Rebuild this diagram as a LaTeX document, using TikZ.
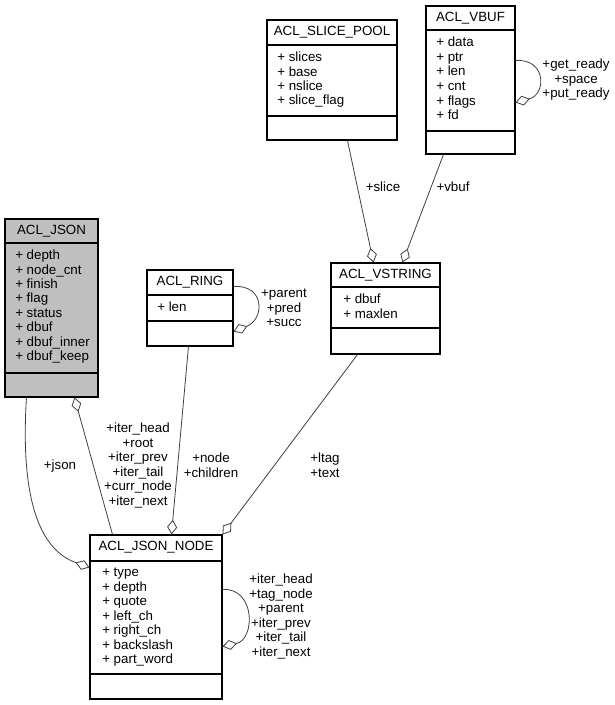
\documentclass[tikz,border=0pt]{standalone}
\usepackage{fontspec}
\setmainfont{Liberation Sans}
\usepackage{xcolor}
\definecolor{dxgray}{RGB}{191,191,191}
\definecolor{dxedge}{RGB}{64,64,64}
\usetikzlibrary{arrows.meta,fit,calc}
\tikzset{
  classbox/.style={draw=black,line width=0.8pt,inner sep=0pt},
  divline/.style={draw=black,line width=0.8pt},
  ctitle/.style={inner sep=0pt,text height=7.5pt,text depth=2pt},
  attr/.style={anchor=west,inner sep=0pt,text height=7.5pt,text depth=2pt},
  rel/.style={draw=dxedge,line width=0.6pt,-{Diamond[length=11pt,width=7.5pt,fill=white]}},
  rlabel/.style={align=center,inner sep=0pt}
}

\begin{document}
\begin{tikzpicture}[x=0.75pt,y=-0.75pt,font=\fontsize{10}{10.9}\selectfont]
  \fill[white] (0,0) rectangle (614,705);
  \useasboundingbox (0,0) rectangle (614,705);
  % ACL_JSON
  \node[classbox,fill=dxgray,fit={(5,219) (98,397)}] (json) {};
  \draw[divline] (json.west |- 0,243) -- (json.east |- 0,243);
  \draw[divline] (json.west |- 0,373) -- (json.east |- 0,373);
  \node[ctitle] (json-t) at (json.north |- 0,231) {ACL\_JSON};
  \foreach \a [count=\i] in {depth,node\_cnt,finish,flag,status,dbuf,dbuf\_inner,dbuf\_keep}
    \node[attr] (json-a\i) at (15,241.6+14.4*\i) {+ \a};
  % ACL_SLICE_POOL
  \node[classbox,fit={(267,20) (397,140)}] (slice) {};
  \draw[divline] (slice.west |- 0,45) -- (slice.east |- 0,45);
  \draw[divline] (slice.west |- 0,116) -- (slice.east |- 0,116);
  \node[ctitle] (slice-t) at (slice.north |- 0,32) {ACL\_SLICE\_POOL};
  \foreach \a [count=\i] in {slices,base,nslice,slice\_flag}
    \node[attr] (slice-a\i) at (277,43.6+14.4*\i) {+ \a};
  % ACL_VBUF
  \node[classbox,fit={(426,6) (515,154)}] (vbuf) {};
  \draw[divline] (vbuf.west |- 0,30) -- (vbuf.east |- 0,30);
  \draw[divline] (vbuf.west |- 0,131) -- (vbuf.east |- 0,131);
  \node[ctitle] (vbuf-t) at (vbuf.north |- 0,18) {ACL\_VBUF};
  \foreach \a [count=\i] in {data,ptr,len,cnt,flags,fd}
    \node[attr] (vbuf-a\i) at (436,28.4+14.6*\i) {+ \a};
  % ACL_RING
  \node[classbox,fit={(147,270) (233,346)}] (ring) {};
  \draw[divline] (ring.west |- 0,295) -- (ring.east |- 0,295);
  \draw[divline] (ring.west |- 0,321) -- (ring.east |- 0,321);
  \node[ctitle] (ring-t) at (ring.north |- 0,282) {ACL\_RING};
  \node[attr] (ring-a1) at (157,308) {+ len};
  % ACL_VSTRING
  \node[classbox,fit={(331,263) (440,354)}] (vstring) {};
  \draw[divline] (vstring.west |- 0,287) -- (vstring.east |- 0,287);
  \draw[divline] (vstring.west |- 0,328) -- (vstring.east |- 0,328);
  \node[ctitle] (vstring-t) at (vstring.north |- 0,275) {ACL\_VSTRING};
  \foreach \a [count=\i] in {dbuf,maxlen}
    \node[attr] (vstring-a\i) at (343,285.6+14.4*\i) {+ \a};
  % ACL_JSON_NODE
  \node[classbox,fit={(90,535) (222,699)}] (jnode) {};
  \draw[divline] (jnode.west |- 0,561) -- (jnode.east |- 0,561);
  \draw[divline] (jnode.west |- 0,674) -- (jnode.east |- 0,674);
  \node[ctitle] (jnode-t) at (jnode.north |- 0,547) {ACL\_JSON\_NODE};
  \foreach \a [count=\i] in {type,depth,quote,left\_ch,right\_ch,backslash,part\_word}
    \node[attr] (jnode-a\i) at (102,558.5+14.5*\i) {+ \a};

  % relations
  \draw[rel] ($(json.south west)+(22,0)$) .. controls (20,500) and (40,550) .. ($(jnode.north west)+(0,33)$);
  \draw[rel] ($(jnode.north west)+(23,0)$) -- ($(json.south west)+(70,0)$);
  \draw[rel] ($(ring.south west)+(42,0)$) -- ($(jnode.north west)+(82,0)$);
  \draw[rel] ($(vstring.south west)+(27,0)$) -- (jnode.north east);
  \draw[rel] ($(slice.south west)+(81,0)$) -- ($(vstring.north west)+(43,0)$);
  \draw[rel] ($(vbuf.south west)+(18,0)$) -- ($(vstring.north west)+(72,0)$);
  % self loops
  \draw[rel] ($(ring.north east)+(0,17)$) .. controls +(32,-2) and +(31,-12) .. ($(ring.north east)+(0,62)$);
  \draw[rel] ($(vbuf.north east)+(0,55)$) .. controls +(31,-2) and +(31,-8) .. ($(vbuf.north east)+(0,97)$);
  \draw[rel] ($(jnode.north east)+(0,55)$) .. controls +(33,-2) and +(33,-7) .. ($(jnode.north east)+(0,112)$);

  % labels
  \node[rlabel] (l-json) at (60,466) {+json};
  \node[rlabel] (l-iter) at (138,465.5) {+iter\_head\\+root\\+iter\_prev\\+iter\_tail\\+curr\_node\\+iter\_next};
  \node[rlabel] (l-node) at (211,465) {+node\\+children};
  \node[rlabel] (l-ltag) at (325,465) {+ltag\\+text};
  \node[rlabel] (l-slice) at (383,187) {+slice};
  \node[rlabel] (l-vbuf) at (453,187) {+vbuf};
  \node[rlabel] (l-ring) at (284,308) {+parent\\+pred\\+succ};
  \node[rlabel] (l-vbself) at (576,80) {+get\_ready\\+space\\+put\_ready};
  \node[rlabel] (l-jnself) at (281,616.5) {+iter\_head\\+tag\_node\\+parent\\+iter\_prev\\+iter\_tail\\+iter\_next};
\end{tikzpicture}
\end{document}
